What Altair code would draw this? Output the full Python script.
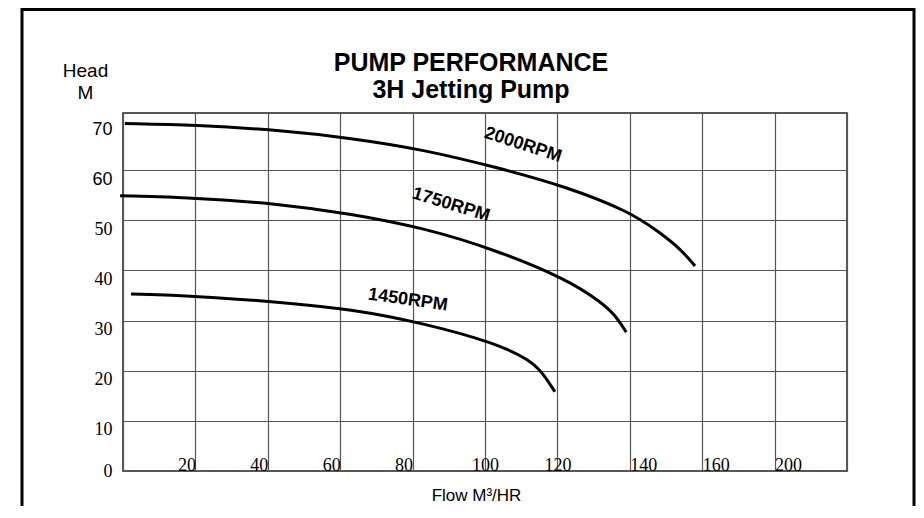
import altair as alt
import pandas as pd

# ---- data ----
flow_2000 = [0.5, 20, 43, 63, 83, 103, 123, 140, 148, 154, 158]
head_2000 = [69.3, 69.0, 68.0, 66.4, 64.1, 60.6, 56.6, 51.7, 47.7, 44.3, 40.9]

flow_1750 = [-0.8, 20, 43, 63, 83, 103, 123, 132, 136, 139]
head_1750 = [54.9, 54.5, 53.3, 51.3, 48.5, 44.1, 38.1, 33.7, 31.1, 27.7]

flow_1450 = [2.2, 20, 43, 63, 83, 103, 112.5, 116, 119.3]
head_1450 = [35.3, 34.9, 33.7, 32.3, 29.5, 25.5, 22.1, 19.5, 15.8]

series_names = ["2000RPM", "1750RPM", "1450RPM"]
label_flow = [110.5, 90.6, 78.7]
label_head = [65.0, 53.05, 34.1]

x_ticks = [0, 20, 40, 60, 80, 100, 120, 140, 160, 180, 200]
y_ticks = [0, 10, 20, 30, 40, 50, 60, 70]

title_lines = ["PUMP PERFORMANCE", "3H Jetting Pump"]
y_title_lines = ["Head", "M"]
x_title = "Flow M\u00b3/HR"

# ---- styles ----
label_angle = {"2000RPM": 18, "1750RPM": 17, "1450RPM": 8}
W, H = 724, 358

rows = []
for name, fx, hy in [("2000RPM", flow_2000, head_2000),
                     ("1750RPM", flow_1750, head_1750),
                     ("1450RPM", flow_1450, head_1450)]:
    for a, b in zip(fx, hy):
        rows.append({"series": name, "flow": a, "head": b})
df = pd.DataFrame(rows)
lab_df = pd.DataFrame({"series": series_names, "flow": label_flow, "head": label_head})

x_scale = alt.Scale(domain=[0, 200], nice=False, zero=False)
y_scale = alt.Scale(domain=[0, 71.4], nice=False, zero=False)

x_axis = alt.Axis(
    values=x_ticks, grid=True, gridColor="#555", gridWidth=1.2,
    ticks=False, tickSize=0, domain=False,
    labelExpr="datum.value == 0 || datum.value == 200 ? '' : (datum.value == 180 ? '200' : datum.label)",
    labelAlign={"condition": [{"test": "datum.value <= 80", "value": "right"},
                              {"test": "datum.value <= 120", "value": "center"}],
                "value": "left"},
    labelBaseline="alphabetic", labelPadding=-1,
    labelFont="Liberation Serif", labelFontSize=18, labelColor="black",
    labelOverlap=False, labelFlush=False,
    title=x_title, titleFont="Liberation Sans", titleFontSize=17,
    titleFontWeight="normal", titleColor="black",
    titleX=353, titleY=29, titleAlign="center", titleBaseline="alphabetic",
)

y_axis = alt.Axis(
    values=y_ticks, grid=True, gridColor="#555", gridWidth=1.2,
    gridOpacity={"condition": {"test": "datum.value == 0 || datum.value == 70", "value": 0}, "value": 1},
    ticks=False, tickSize=0, domain=False,
    labelBaseline={"condition": {"test": "datum.value == 0", "value": "middle"}, "value": "top"},
    labelFont={"condition": {"test": "datum.value >= 60", "value": "Liberation Sans"}, "value": "Liberation Serif"},
    labelFontSize=18, labelColor="black", labelPadding=11,
    labelOverlap=False, labelFlush=False,
    title=y_title_lines, titleAngle=0, titleX=-38, titleY=-37,
    titleAlign="center", titleBaseline="alphabetic",
    titleFont="Liberation Sans", titleFontSize=19, titleFontWeight="normal",
    titleColor="black", titleLineHeight=22,
)

lines = alt.Chart(df).mark_line(color="black", strokeWidth=3, interpolate="basis").encode(
    x=alt.X("flow:Q", scale=x_scale, axis=x_axis),
    y=alt.Y("head:Q", scale=y_scale, axis=y_axis),
    detail="series:N",
)

texts = []
for name in series_names:
    t = alt.Chart(lab_df).transform_filter(alt.datum.series == name).mark_text(
        font="Liberation Sans", fontSize=18, fontWeight="bold", color="black",
        angle=label_angle[name], align="center", baseline="middle",
    ).encode(
        x=alt.X("flow:Q", scale=x_scale),
        y=alt.Y("head:Q", scale=y_scale),
        text="series:N",
    )
    texts.append(t)

frame = alt.Chart(pd.DataFrame({"frame": [0]})).mark_rect(
    filled=False, stroke="black", strokeWidth=3
).encode(
    x=alt.value(-101), x2=alt.value(791), y=alt.value(-103.5), y2=alt.value(440)
)

chart = alt.layer(frame, lines, *texts).properties(
    width=W, height=H,
    title=alt.TitleParams(
        text=title_lines, font="Liberation Sans", fontSize=25, fontWeight="bold",
        color="black", lineHeight=27, anchor="middle", frame="group",
        dx=-14, offset=-95,
    ),
    autosize=alt.AutoSizeParams(type="none"),
    padding={"left": 115, "top": 105, "right": 69, "bottom": 35},
).configure_view(stroke="#222", strokeWidth=1.5)

chart.save("out.html", embed_options={"renderer": "svg", "actions": False})
